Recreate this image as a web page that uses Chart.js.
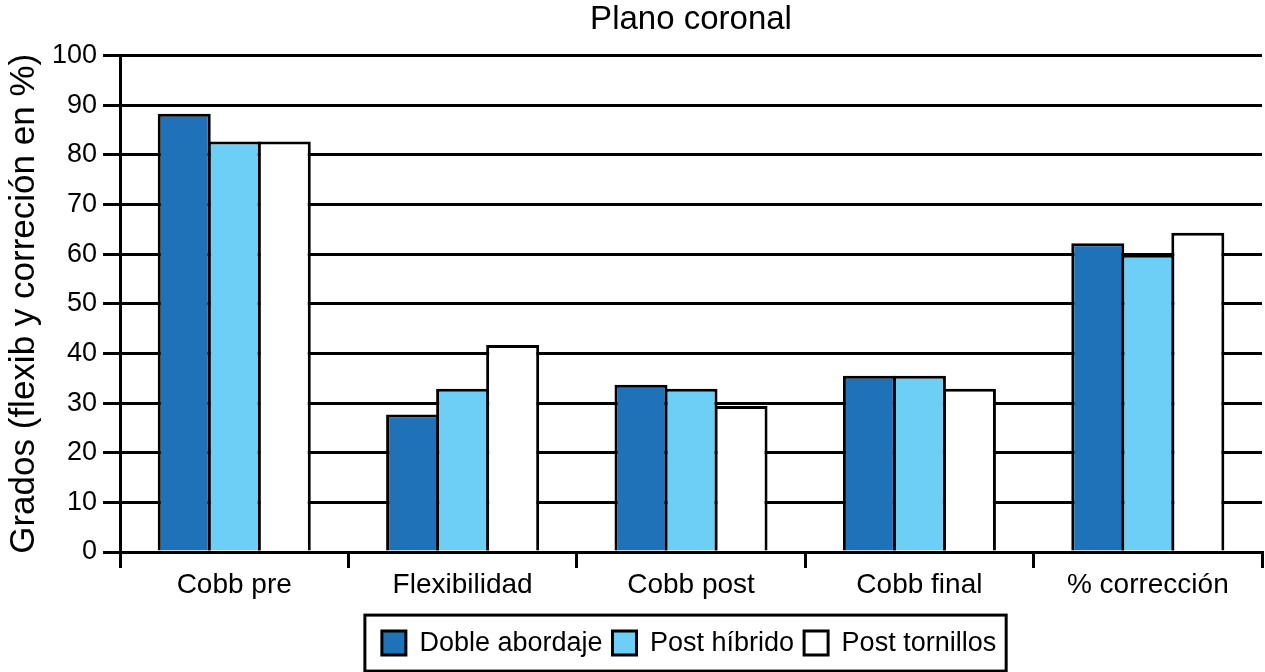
<!DOCTYPE html>
<html><head><meta charset="utf-8">
<script src="https://cdn.jsdelivr.net/npm/chart.js@4/dist/chart.umd.min.js"></script>
<style>html,body{margin:0;padding:0;background:#fff}#wrap{width:1265px;height:672px;position:relative}</style>
</head><body><div id="wrap"><canvas id="c"></canvas></div>
<script>
const categories = ['Cobb pre', 'Flexibilidad', 'Cobb post', 'Cobb final', '% corrección'];
const dobleAbordaje = [88.3, 27.7, 33.7, 35.5, 62.2];
const postHibrido = [82.7, 32.9, 32.9, 35.5, 59.9];
const postTornillos = [82.7, 41.7, 29.4, 32.9, 64.3];
const seriesNames = ['Doble abordaje', 'Post híbrido', 'Post tornillos'];
const yMin = 0, yMax = 100, yStep = 10;
const chartTitle = 'Plano coronal';
const yTitle = 'Grados (flexib y correción en %)';

Chart.defaults.font.family = '"Liberation Sans", Arial, Helvetica, sans-serif';
Chart.defaults.color = '#000';

const layoutTweaks = {
  id: 'layoutTweaks',
  afterLayout(chart) {
    const ca = chart.chartArea;
    const t = chart.titleBlock;
    if (t) { t.left = ca.left; t.right = ca.right; }
    const lg = chart.legend;
    if (lg) {
      lg.left = ca.left - 4; lg.right = ca.right;
      const dy = 18;
      lg.top += dy; lg.bottom += dy;
    }
  },
  afterDraw(chart) {
    const hb = chart.legend && chart.legend.legendHitBoxes;
    if (!hb || !hb.length) return;
    const first = hb[0], last = hb[hb.length - 1];
    const cy = first.top + first.height / 2;
    const ctx = chart.ctx;
    ctx.save();
    ctx.strokeStyle = '#000';
    ctx.lineWidth = 3;
    ctx.strokeRect(first.left - 17, cy - 28, (last.left + last.width + 10) - (first.left - 17), 56);
    ctx.restore();
  }
};

const common = { borderColor: '#000', borderWidth: 3, barPercentage: 1.06, categoryPercentage: 0.657 };

new Chart(document.getElementById('c'), {
  type: 'bar',
  data: {
    labels: categories,
    datasets: [
      Object.assign({ label: seriesNames[0], data: dobleAbordaje, backgroundColor: '#1f72b8' }, common),
      Object.assign({ label: seriesNames[1], data: postHibrido, backgroundColor: '#6dcff6' }, common),
      Object.assign({ label: seriesNames[2], data: postTornillos, backgroundColor: '#ffffff' }, common)
    ]
  },
  options: {
    responsive: true,
    maintainAspectRatio: false,
    animation: false,
    devicePixelRatio: 1,
    layout: { padding: { left: 0, right: 3, top: 0, bottom: 23.4 } },
    plugins: {
      title: { display: true, text: chartTitle, color: '#000', font: { size: 33, weight: 'normal' }, padding: { top: 0, bottom: 16 } },
      legend: {
        position: 'bottom',
        labels: { color: '#000', font: { size: 27 }, boxWidth: 24, boxHeight: 24, padding: 10 }
      },
      tooltip: { enabled: false }
    },
    scales: {
      x: {
        grid: { display: true, offset: true, drawOnChartArea: false, drawTicks: true, tickLength: 16, lineWidth: 3, color: '#000' },
        border: { display: true, color: '#000', width: 3 },
        ticks: { color: '#000', font: { size: 28 }, padding: 0, maxRotation: 0 }
      },
      y: {
        min: yMin, max: yMax,
        grid: { color: '#000', lineWidth: 3, drawTicks: true, tickLength: 17 },
        border: { display: true, color: '#000', width: 3 },
        ticks: { stepSize: yStep, color: '#000', font: { size: 27 }, padding: 6 },
        title: { display: true, text: yTitle, color: '#000', font: { size: 35 }, padding: { top: 3, bottom: 1 } }
      }
    }
  },
  plugins: [layoutTweaks]
});
</script>
</body></html>
